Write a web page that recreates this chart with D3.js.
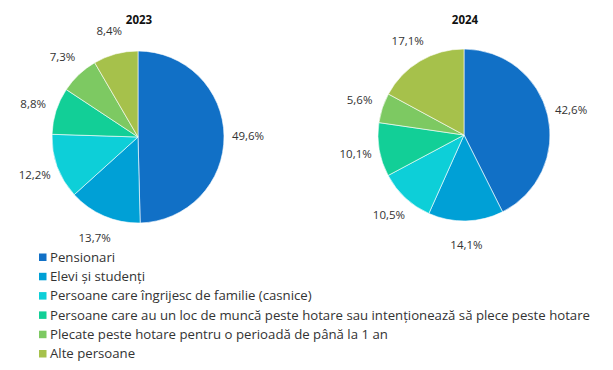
<!DOCTYPE html>
<html><head><meta charset="utf-8">
<script src="https://cdn.jsdelivr.net/npm/d3@7"></script>
<style>body{margin:0;background:#fff}svg{display:block}text{font-family:"Open Sans",Lato,sans-serif}</style>
</head><body>
<svg id="c" width="613" height="370"></svg>
<script>
const categories = ["Pensionari","Elevi și studenți","Persoane care îngrijesc de familie (casnice)","Persoane care au un loc de muncă peste hotare sau intenționează să plece peste hotare","Plecate peste hotare pentru o perioadă de până la 1 an","Alte persoane"];
const values2023 = [49.6,13.7,12.2,8.8,7.3,8.4];
const values2024 = [42.6,14.1,10.5,10.1,5.6,17.1];
const years = ["2023","2024"];
const colors = ["#1170c6","#00a0d6","#0dcfd8","#12cf97","#7dc962","#a6c14b"];

const svg = d3.select("#c");
const color = d3.scaleOrdinal().domain(categories).range(colors);
const fmt = v => d3.format(".1f")(v).replace(".", ",") + "%";
const pies = [{year:years[0], vals:values2023, cx:138, cy:137},{year:years[1], vals:values2024, cx:464, cy:135}];
const R = 86, LR = 110;
const pie = d3.pie().sort(null).value(d=>d.v);
const arc = d3.arc().innerRadius(0).outerRadius(R);
const labArc = d3.arc().innerRadius(LR).outerRadius(LR);

pies.forEach(p=>{
  const g = svg.append("g").attr("transform",`translate(${p.cx},${p.cy})`);
  const data = pie(categories.map((c,i)=>({c, v:p.vals[i]})));
  g.selectAll("path").data(data).join("path")
    .attr("d",arc).attr("fill",d=>color(d.data.c)).attr("stroke","#fff").attr("stroke-width",0.6);
  g.selectAll("text.l").data(data).join("text").attr("class","l")
    .attr("transform",d=>`translate(${labArc.centroid(d)})`)
    .attr("text-anchor","middle").attr("dy","0.35em")
    .attr("font-size",11.5).attr("fill","#333").text(d=>fmt(d.data.v));
  svg.append("text").attr("x",p.cx+1).attr("y",24).attr("text-anchor","middle")
    .attr("font-size",11.5).attr("font-weight","bold").attr("fill","#111").text(p.year);
});

const lg = svg.append("g");
categories.forEach((c,i)=>{
  const y = 257 + i*19.3;
  lg.append("rect").attr("x",39).attr("y",y-3.5).attr("width",7.5).attr("height",7.5).attr("fill",color(c));
  lg.append("text").attr("x",50).attr("y",y).attr("dy","0.35em").attr("font-size",13.2).attr("fill","#333").text(c);
});
</script>
</body></html>
